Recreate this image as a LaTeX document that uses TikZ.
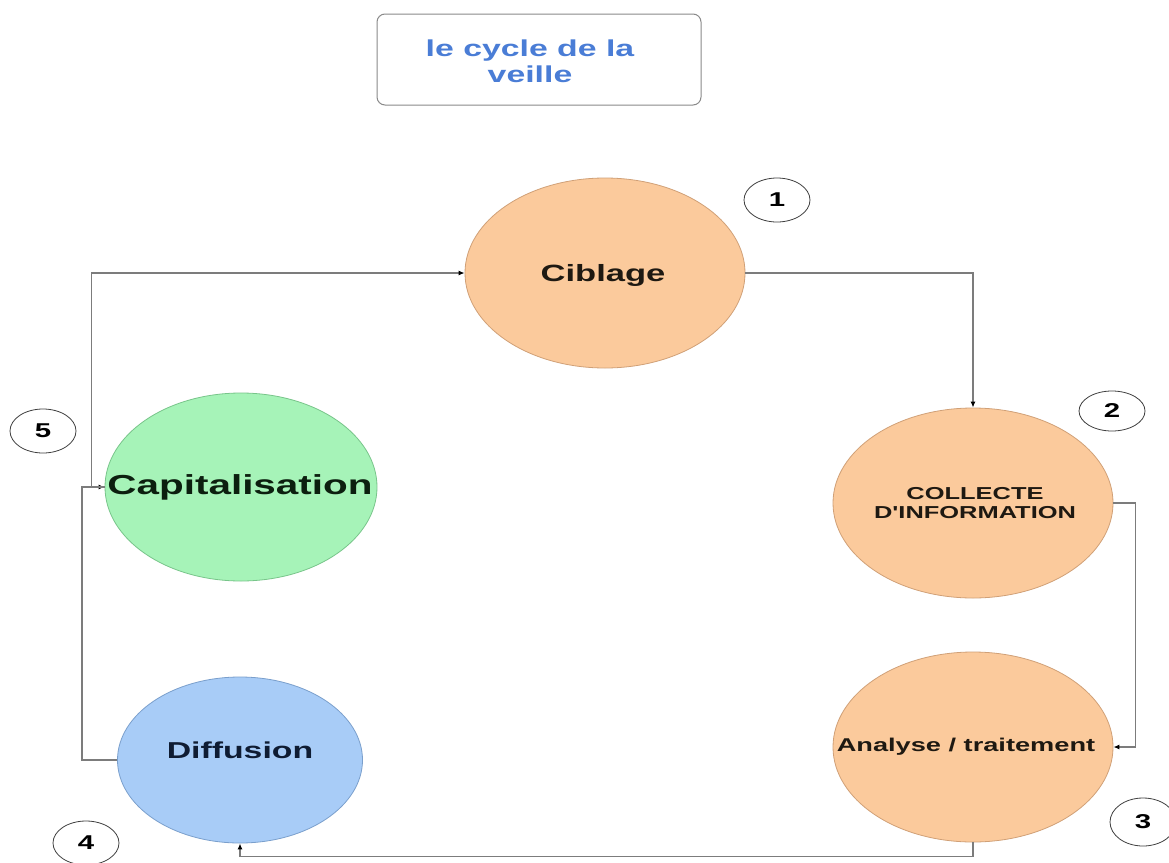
\documentclass[tikz,border=0pt]{standalone}
\usepackage{fontspec}
\setmainfont{Liberation Sans}[FakeStretch=1.47, Ligatures=TeXOff]
\usetikzlibrary{shapes.geometric,arrows.meta}

\definecolor{peach}{HTML}{FBCA9C}
\definecolor{peachedge}{HTML}{D0A077}
\definecolor{mint}{HTML}{A6F3B8}
\definecolor{mintedge}{HTML}{78C58A}
\definecolor{sky}{HTML}{A8CCF7}
\definecolor{skyedge}{HTML}{7A9FCC}
\definecolor{titleblue}{HTML}{4A7DD6}
\definecolor{wire}{HTML}{7C7C7C}
\definecolor{boxedge}{HTML}{8A8A8A}
\definecolor{inkbrown}{HTML}{1E1912}
\definecolor{inkgreen}{HTML}{0C1F0F}
\definecolor{inknavy}{HTML}{0F1C33}

\begin{document}
\begin{tikzpicture}[x=1pt,y=-1pt,
  stage/.style={ellipse, inner sep=0pt, line width=0.8pt},
  orangestage/.style={stage, fill=peach, draw=peachedge},
  stagetext/.style={inner sep=0pt, align=center, font=\bfseries},
  badge/.style={ellipse, draw=black!75, line width=0.8pt, fill=white,
                minimum width=66pt, minimum height=44pt, inner sep=0pt,
                font=\bfseries\fontsize{20}{20}\selectfont},
  flow/.style={draw=wire, line width=1.3pt,
               -{Latex[length=6pt,width=5pt,color=black]}}
]
\useasboundingbox (0,0) rectangle (1169,862);
\fill[white] (0,0) rectangle (1169,862);

% title
\node[draw=boxedge, line width=1pt, rounded corners=8pt,
      minimum width=324pt, minimum height=91pt, inner sep=0pt]
      (titlebox) at (539,59.5) {};
\node[inner sep=0pt, align=center, text=titleblue,
      font=\bfseries\fontsize{23}{26}\selectfont] (title) at (530,61)
      {le cycle de la\\veille};

% stages of the cycle
\node[orangestage, minimum width=280pt, minimum height=190pt] (ciblage) at (605,273) {};
\node[orangestage, minimum width=280pt, minimum height=190pt] (collecte) at (973,503) {};
\node[orangestage, minimum width=280pt, minimum height=190pt] (analyse) at (973,747) {};
\node[stage, fill=sky, draw=skyedge, minimum width=245pt, minimum height=166pt] (diffusion) at (240,760) {};
\node[stage, fill=mint, draw=mintedge, minimum width=272pt, minimum height=188pt] (capitalisation) at (241,487) {};

\node[stagetext, text=inkbrown, font=\bfseries\fontsize{23.5}{26}\selectfont] (tciblage) at (603,275) {Ciblage};
\node[stagetext, text=inkbrown, font=\bfseries\fontsize{17.3}{19.5}\selectfont] (tcollecte) at (975,503) {COLLECTE\\D'INFORMATION};
\node[stagetext, text=inkbrown, font=\bfseries\fontsize{18.5}{20}\selectfont] (tanalyse) at (966,747) {Analyse / traitement};
\node[stagetext, text=inknavy, font=\bfseries\fontsize{23}{26}\selectfont] (tdiffusion) at (240,750) {Diffusion};
\node[stagetext, text=inkgreen, font=\bfseries\fontsize{27.5}{30}\selectfont] (tcapitalisation) at (240,487) {Capitalisation};

% step numbers
\node[badge] (n1) at (777,200) {1};
\node[badge, minimum height=40pt] (n2) at (1112,411) {2};
\node[badge, minimum height=48pt] (n3) at (1143,822) {3};
\node[badge] (n4) at (86,843) {4};
\node[badge] (n5) at (43,431) {5};

% connectors
\draw[flow] (ciblage.east) -| (collecte.north);
\draw[flow] (collecte.east) -- ++(22,0) |- (analyse.east);
\draw[flow] (analyse.south) -- ++(0,14) -| (diffusion.south);
\draw[flow] (diffusion.west) -- ++(-35,0) |- (capitalisation.west);
\draw[flow] (capitalisation.west) -- ++(-13,0) |- (ciblage.west);
\end{tikzpicture}
\end{document}
